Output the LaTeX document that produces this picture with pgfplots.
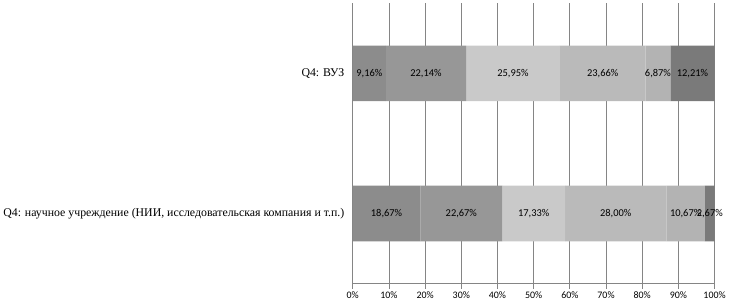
\documentclass[border=0pt]{standalone}
\usepackage{fontspec}
\setmainfont{Liberation Serif}
\newfontfamily\carlito{Carlito}
\usepackage{pgfplots}
\pgfplotsset{compat=1.18}
\definecolor{s1}{HTML}{8C8C8C}
\definecolor{s2}{HTML}{979797}
\definecolor{s3}{HTML}{C9C9C9}
\definecolor{s4}{HTML}{BABABA}
\definecolor{s5}{HTML}{B3B3B3}
\definecolor{s6}{HTML}{7A7A7A}
\definecolor{gl}{HTML}{858585}
\begin{document}
\begin{tikzpicture}
\begin{axis}[
  scale only axis,
  width=364pt, height=282pt,
  xbar stacked,
  bar width=56pt,
  xmin=0, xmax=100,
  ymin=-0.5, ymax=1.5,
  xtick={0,10,...,100},
  xticklabel={\pgfmathprintnumber{\tick}\%},
  /pgf/number format/assume math mode=true,
  xticklabel style={font=\carlito\fontsize{10}{12}\selectfont},
  ytick={0,1},
  yticklabels={{Q4: научное учреждение (НИИ, исследовательская компания и т.п.)}, {Q4: ВУЗ}},
  yticklabel style={font=\fontsize{11.9}{13}\selectfont},
  extra y ticks={-0.5,0.5,1.5},
  extra y tick labels={},
  extra y tick style={major tick length=5pt, tick style={draw=gl, line width=0.8pt}},
  major tick length=5pt,
  tick align=outside,
  ytick style={draw=none},
  xtick style={draw=gl, line width=0.8pt},
  xmajorgrids,
  grid style={gl, line width=0.8pt},
  axis x line*=bottom,
  axis y line*=left,
  axis line style={gl, line width=0.8pt},
  point meta=explicit,
  nodes near coords={\pgfmathprintnumber[fixed,fixed zerofill,precision=2,use comma]{\pgfplotspointmeta}\%},
  every node near coord/.append style={font=\carlito\fontsize{10.5}{12}\selectfont, anchor=center, inner sep=0pt},
  clip=false,
]
\addplot[fill=s1, draw=none] coordinates {(18.67,0) [18.67] (9.16,1) [9.16]};
\addplot[fill=s2, draw=none] coordinates {(22.67,0) [22.67] (22.14,1) [22.14]};
\addplot[fill=s3, draw=none] coordinates {(17.33,0) [17.33] (25.95,1) [25.95]};
\addplot[fill=s4, draw=none] coordinates {(28.00,0) [28.00] (23.66,1) [23.66]};
\addplot[fill=s5, draw=none] coordinates {(10.67,0) [10.67] (6.87,1) [6.87]};
\addplot[fill=s6, draw=none] coordinates {(2.67,0) [2.67] (12.21,1) [12.21]};
\end{axis}
\end{tikzpicture}
\end{document}
